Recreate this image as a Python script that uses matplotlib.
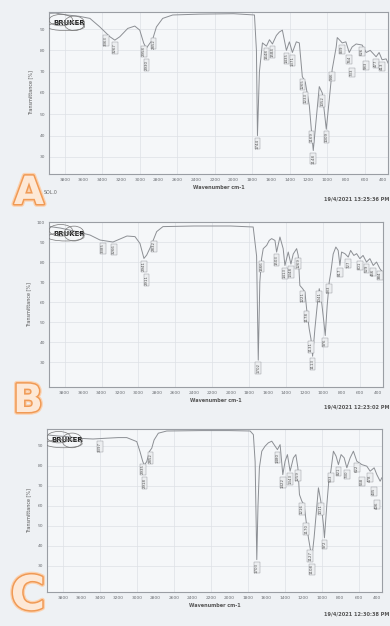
import numpy as np
import matplotlib
matplotlib.use('Agg')
import matplotlib.pyplot as plt
from matplotlib import patheffects as pe
from matplotlib.patches import Ellipse

# ---------------- data ----------------
a_wn = [3959, 3900, 3778, 3650, 3533, 3427, 3320, 3267, 3214, 3129, 3054, 3001, 2958, 2930,
        2894, 2866, 2823, 2756, 2649, 2362, 2000, 1776, 1755, 1744, 1723, 1691, 1648, 1616,
        1584, 1542, 1510, 1478, 1435, 1403, 1371, 1329, 1297, 1265, 1233, 1190, 1169, 1148,
        1116, 1084, 1052, 1009, 977, 946, 903, 892, 870, 839, 800, 764, 733, 690, 626, 583,
        540, 477, 445, 413, 370, 349]
a_t = [97.4, 97.5, 96.6, 96.0, 95.0, 91.0, 86.4, 84.8, 86.4, 90.3, 91.4, 89.5, 83.3, 81.0,
       83.3, 84.8, 91.0, 95.0, 96.6, 97.0, 97.2, 96.6, 80.0, 40.0, 70.0, 83.5, 82.0, 85.0,
       83.0, 87.0, 88.6, 89.5, 80.0, 84.0, 79.0, 84.0, 83.5, 67.7, 65.0, 54.0, 43.0, 33.0,
       48.0, 63.0, 60.0, 43.0, 57.0, 71.0, 81.6, 86.0, 85.0, 83.5, 84.0, 79.0, 81.6, 83.0,
       82.5, 79.0, 80.0, 77.0, 79.0, 75.6, 76.0, 74.0]
a_peaks = [3363, 3267, 2958, 2930, 2852, 1744, 1648, 1584, 1435, 1371, 1265, 1233, 1169,
           1148, 1052, 1009, 946, 839, 764, 733, 626, 583, 477, 413]

b_wn = [3959, 3850, 3700, 3526, 3417, 3277, 3125, 3038, 2984, 2941, 2911, 2868, 2803, 2735,
        2400, 2000, 1757, 1720, 1702, 1685, 1666, 1648, 1611, 1583, 1557, 1521, 1503, 1467,
        1432, 1413, 1377, 1348, 1323, 1286, 1269, 1251, 1221, 1196, 1178, 1150, 1131, 1113,
        1088, 1063, 1041, 1015, 991, 976, 955, 933, 915, 890, 861, 836, 817, 799, 763, 727,
        701, 666, 636, 601, 566, 529, 492, 456, 420, 384, 355]
b_t = [97.7, 97.0, 95.5, 93.5, 91.0, 90.0, 93.0, 92.7, 89.3, 81.8, 83.5, 87.7, 95.2, 97.7,
       98.0, 98.0, 97.5, 83.0, 31.0, 70.0, 81.7, 86.7, 88.3, 90.8, 91.7, 90.8, 85.0, 92.5,
       86.7, 78.3, 85.0, 79.0, 84.0, 86.7, 83.3, 68.3, 66.7, 65.0, 56.7, 46.7, 41.7, 33.0,
       46.7, 58.3, 66.7, 60.0, 50.0, 43.3, 58.3, 70.0, 75.0, 84.0, 87.5, 85.8, 78.3, 85.0,
       84.2, 82.5, 85.8, 83.3, 84.2, 81.7, 83.3, 80.0, 81.7, 78.3, 80.0, 76.7, 75.0]
b_peaks = [3385, 3266, 2941, 2911, 2832, 1702, 1666, 1503, 1413, 1348, 1269, 1221, 1178,
           1131, 1113, 1041, 976, 933, 817, 727, 601, 529, 456, 384]

c_wn = [3956, 3850, 3757, 3600, 3473, 3325, 3200, 3108, 3000, 2965, 2935, 2918, 2892, 2864,
        2838, 2813, 2767, 2676, 2300, 2000, 1775, 1740, 1721, 1703, 1690, 1675, 1649, 1614,
        1578, 1541, 1505, 1480, 1451, 1422, 1397, 1372, 1343, 1307, 1281, 1259, 1242, 1216,
        1192, 1170, 1145, 1127, 1108, 1084, 1062, 1037, 1011, 983, 972, 946, 925, 903, 875,
        846, 821, 792, 759, 730, 694, 659, 622, 568, 514, 478, 435, 406, 370, 352]
c_t = [95.3, 94.8, 94.5, 93.6, 93.3, 93.7, 94.0, 94.0, 92.0, 87.0, 82.0, 80.3, 82.0, 87.0,
       88.7, 92.8, 96.2, 97.3, 97.5, 97.5, 97.3, 95.5, 82.0, 33.0, 60.0, 78.9, 87.2, 89.7,
       91.4, 92.2, 89.7, 88.0, 90.5, 75.5, 82.2, 85.5, 77.2, 83.9, 85.5, 78.9, 65.5, 62.2,
       60.5, 52.2, 43.9, 38.9, 33.9, 43.9, 55.5, 68.9, 62.2, 50.5, 43.9, 60.5, 72.2, 77.2,
       87.2, 84.7, 80.5, 85.5, 83.9, 78.9, 83.9, 87.2, 82.2, 80.5, 79.7, 77.2, 78.9, 75.5,
       72.2, 73.9]
c_peaks = [3397, 2935, 2918, 2852, 1703, 1480, 1422, 1343, 1259, 1216, 1170, 1127, 1108,
           1011, 972, 903, 821, 730, 622, 568, 478, 435, 406]

x_ticks = list(range(3800, 399, -200))
grid_x = list(range(3800, 599, -400))
a_yticks = [30, 40, 50, 60, 70, 80, 90]
b_yticks = [30, 40, 50, 60, 70, 80, 90, 100]
c_yticks = [30, 40, 50, 60, 70, 80, 90]

letters = ['A', 'B', 'C']
dates = ['19/4/2021 13:25:36 PM', '19/4/2021 12:23:02 PM', '19/4/2021 12:30:38 PM']
x_label = 'Wavenumber cm-1'
y_label = 'Transmittance [%]'

# ---------------- figure ----------------
W, H = 390, 626
fig = plt.figure(figsize=(W / 100, H / 100), dpi=100)
fig.patch.set_facecolor('#eef1f4')

def px_axes(l, r, t, b):
    return fig.add_axes([l / W, 1 - b / H, (r - l) / W, (b - t) / H])

panels = [
    dict(box=(49, 388, 12, 174), wn=a_wn, t=a_t, peaks=a_peaks, ylim=(22, 98),
         yt=a_yticks, letter_xy=(29, 193), letter_fs=28, date_y=199),
    dict(box=(49, 383, 222, 387), wn=b_wn, t=b_t, peaks=b_peaks, ylim=(17.6, 100),
         yt=b_yticks, letter_xy=(28, 401), letter_fs=28, date_y=407),
    dict(box=(47, 382, 429, 592), wn=c_wn, t=c_t, peaks=c_peaks, ylim=(16.8, 98.3),
         yt=c_yticks, letter_xy=(28, 597), letter_fs=34, date_y=614),
]

LBL_H = 12.5   # approx label height in pixels
LBL_W = 5.0    # approx label width in pixels

txt_col = '#6a6d72'
for i, p in enumerate(panels):
    ax = px_axes(*p['box'])
    ax.set_facecolor('#f5f7f9')
    ax.set_xlim(3970, 350)
    ax.set_ylim(*p['ylim'])
    for gx in grid_x:
        ax.axvline(gx, color='#dde1e6', lw=0.5, zorder=0)
    for gy in p['yt']:
        ax.axhline(gy, color='#dde1e6', lw=0.5, zorder=0)
    ax.plot(p['wn'], p['t'], color='#8c8f94', lw=0.7, zorder=2)

    ax.set_xticks(x_ticks)
    ax.set_xticklabels([str(v) for v in x_ticks])
    ax.set_yticks(p['yt'])
    ax.set_yticklabels([str(v) for v in p['yt']])
    ax.tick_params(length=0, labelsize=3.2, colors=txt_col, pad=3)
    for s in ax.spines.values():
        s.set_color('#9a9ea4')
        s.set_linewidth(0.8)
    ax.set_xlabel(x_label, fontsize=3.5, color='#555', labelpad=2, fontweight='bold')
    ax.set_ylabel(y_label, fontsize=3.5, color='#555', labelpad=4)

    # peak labels, placed just under each peak, pushed down only when they collide
    xs = np.array(p['wn'])[::-1]
    ys = np.array(p['t'])[::-1]
    bottom_px = ax.transData.transform((3000, p['ylim'][0]))[1]
    placed = []
    for pk in p['peaks']:
        yv = np.interp(pk, xs, ys)
        dx, dy = ax.transData.transform((pk, yv))
        top = dy - 3
        for (px_, ptop, pbot) in placed:
            if abs(px_ - dx) < LBL_W and not (top - LBL_H > ptop or top < pbot):
                top = pbot - 1
        top = max(top, bottom_px + LBL_H + 2)
        placed.append((dx, top, top - LBL_H))
        ax.annotate(str(pk), xy=(pk, yv), xytext=(0, top - dy),
                    textcoords='offset pixels', rotation=90, fontsize=2.8,
                    ha='center', va='top', color='#555',
                    bbox=dict(boxstyle='square,pad=0.2', fc='#eceef0', ec='#8d9095', lw=0.3),
                    zorder=3)

    # BRUKER logo
    ax.text(0.012, 0.93, 'BRUKER', transform=ax.transAxes, fontsize=5, fontweight='bold',
            color='#222', ha='left', va='center', zorder=4)
    for (cx, cy, w, h) in [(0.035, 0.95, 0.07, 0.07), (0.075, 0.93, 0.06, 0.09),
                           (0.05, 0.91, 0.11, 0.05)]:
        ax.add_patch(Ellipse((cx, cy), w, h, transform=ax.transAxes, fill=False,
                             ec='#777', lw=0.5, zorder=4))

    # big letter
    lx, ly = p['letter_xy']
    fig.text(lx / W, 1 - ly / H, letters[i], fontsize=p['letter_fs'], fontweight='bold',
             ha='center', va='center', color='#fde8d6',
             path_effects=[pe.Stroke(linewidth=4, foreground='#fbd2b0'),
                           pe.Stroke(linewidth=2.2, foreground='#f09a55'), pe.Normal()])
    # date
    fig.text(389 / W, 1 - p['date_y'] / H, dates[i], fontsize=3.6, color='#555',
             ha='right', va='center', fontweight='bold')

fig.text(44 / W, 1 - 193 / H, 'SOL.0', fontsize=3.4, color='#666', ha='left', va='center')

fig.savefig('out.png', dpi=100, facecolor=fig.get_facecolor())
